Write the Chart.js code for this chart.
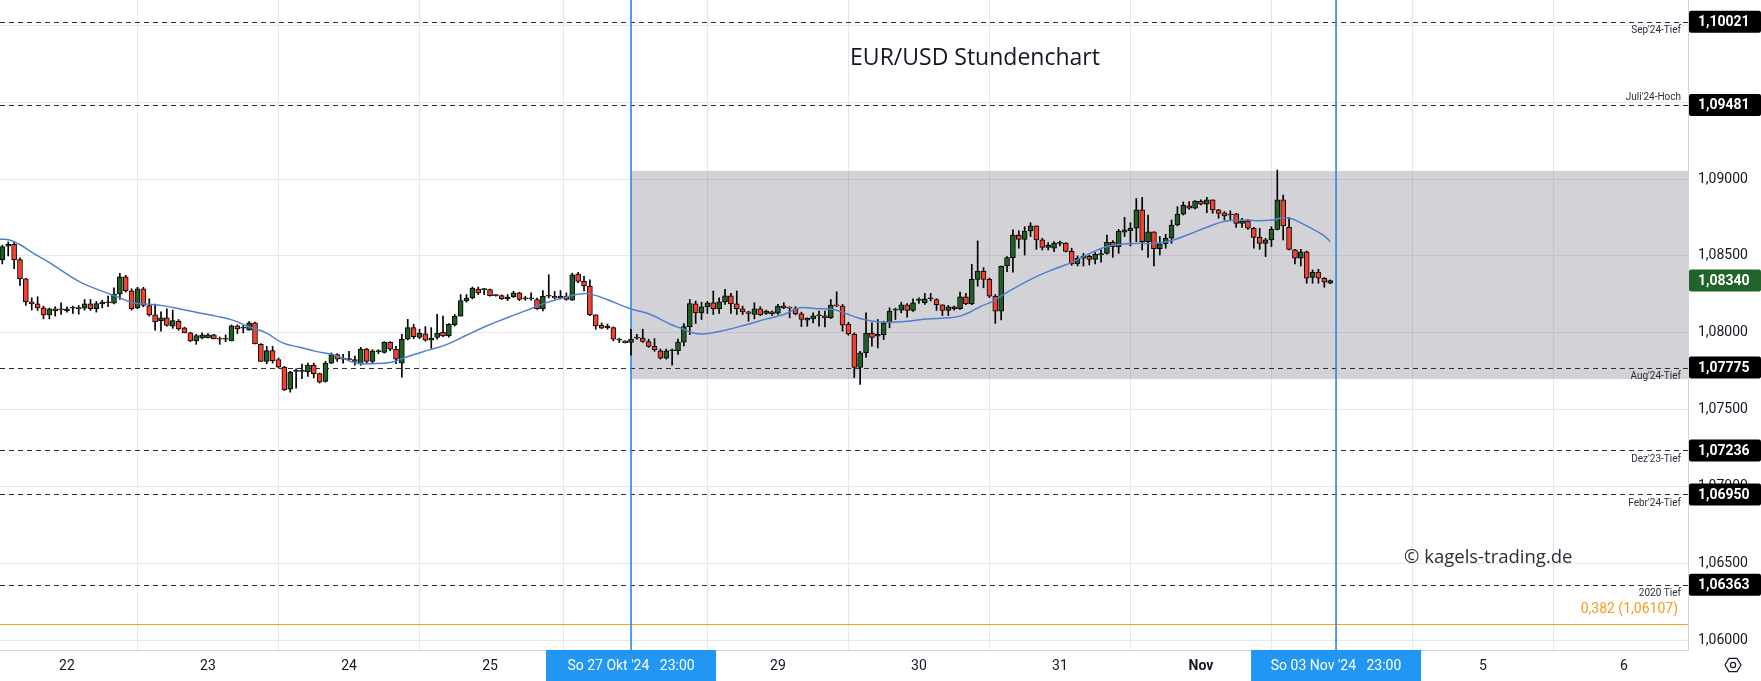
<!DOCTYPE html>
<html lang="de">
<head>
<meta charset="utf-8">
<title>EUR/USD Stundenchart</title>
<script src="https://cdn.jsdelivr.net/npm/chart.js@4.4.1/dist/chart.umd.min.js"></script>
<style>
  html, body { margin: 0; padding: 0; background: #fff; }
</style>
</head>
<body>
<canvas id="chart" width="1761" height="681"></canvas>
<script>
// Stundenkerzen [open, high, low, close], ein Slot je Handelsstunde
const firstSlot = -11;

const oct21 = [
    [1.08474, 1.08570, 1.08448, 1.08561], [1.08563, 1.08591, 1.08500, 1.08576],
    [1.08576, 1.08587, 1.08417, 1.08474], [1.08476, 1.08487, 1.08309, 1.08352],
    [1.08352, 1.08355, 1.08178, 1.08202], [1.08202, 1.08228, 1.08148, 1.08189],
    [1.08189, 1.08235, 1.08146, 1.08163], [1.08163, 1.08174, 1.08091, 1.08117],
    [1.08117, 1.08161, 1.08091, 1.08157], [1.08157, 1.08170, 1.08109, 1.08143],
    [1.08150, 1.08196, 1.08120, 1.08152]
];
const oct22 = [
    [1.08143, 1.08170, 1.08135, 1.08157], [1.08160, 1.08174, 1.08126, 1.08161],
    [1.08157, 1.08178, 1.08122, 1.08165], [1.08161, 1.08217, 1.08148, 1.08189],
    [1.08189, 1.08217, 1.08146, 1.08157], [1.08157, 1.08204, 1.08135, 1.08191],
    [1.08189, 1.08213, 1.08163, 1.08200], [1.08196, 1.08239, 1.08170, 1.08202],
    [1.08193, 1.08293, 1.08189, 1.08252], [1.08252, 1.08387, 1.08217, 1.08365],
    [1.08365, 1.08374, 1.08265, 1.08274], [1.08274, 1.08287, 1.08148, 1.08157],
    [1.08163, 1.08296, 1.08157, 1.08287], [1.08287, 1.08296, 1.08170, 1.08178],
    [1.08178, 1.08222, 1.08109, 1.08117], [1.08117, 1.08187, 1.08017, 1.08072],
    [1.08080, 1.08137, 1.08011, 1.08098], [1.08098, 1.08157, 1.08043, 1.08048],
    [1.08043, 1.08148, 1.08030, 1.08080], [1.08076, 1.08087, 1.08017, 1.08026],
    [1.08033, 1.08037, 1.08000, 1.08000], [1.08000, 1.08004, 1.07943, 1.07948],
    [1.07948, 1.07991, 1.07926, 1.07983], [1.07967, 1.08000, 1.07961, 1.07987]
];
const oct23 = [
    [1.07967, 1.07996, 1.07967, 1.07987], [1.07987, 1.07991, 1.07961, 1.07961],
    [1.07961, 1.07974, 1.07926, 1.07959], [1.07959, 1.07987, 1.07943, 1.07960],
    [1.07948, 1.08052, 1.07948, 1.08046], [1.08046, 1.08052, 1.07996, 1.08026],
    [1.08030, 1.08048, 1.08000, 1.08031], [1.08017, 1.08074, 1.08017, 1.08065],
    [1.08065, 1.08070, 1.07928, 1.07928], [1.07926, 1.07930, 1.07815, 1.07815],
    [1.07815, 1.07913, 1.07800, 1.07885], [1.07885, 1.07913, 1.07804, 1.07820],
    [1.07826, 1.07837, 1.07772, 1.07778], [1.07778, 1.07783, 1.07626, 1.07630],
    [1.07635, 1.07750, 1.07615, 1.07746], [1.07750, 1.07767, 1.07641, 1.07752],
    [1.07750, 1.07798, 1.07702, 1.07752], [1.07746, 1.07804, 1.07717, 1.07789],
    [1.07789, 1.07804, 1.07707, 1.07735], [1.07735, 1.07739, 1.07674, 1.07680],
    [1.07685, 1.07815, 1.07680, 1.07804], [1.07804, 1.07870, 1.07800, 1.07859],
    [1.07859, 1.07865, 1.07815, 1.07830], [1.07830, 1.07860, 1.07804, 1.07832]
];
const oct24 = [
    [1.07832, 1.07880, 1.07820, 1.07826], [1.07826, 1.07850, 1.07790, 1.07815],
    [1.07800, 1.07906, 1.07790, 1.07895], [1.07895, 1.07900, 1.07800, 1.07815],
    [1.07815, 1.07891, 1.07800, 1.07884], [1.07878, 1.07891, 1.07865, 1.07880],
    [1.07873, 1.07943, 1.07868, 1.07938], [1.07938, 1.07943, 1.07884, 1.07895],
    [1.07895, 1.07912, 1.07800, 1.07830], [1.07804, 1.07991, 1.07713, 1.07959],
    [1.07959, 1.08088, 1.07955, 1.08034], [1.08034, 1.08056, 1.07963, 1.07976],
    [1.07970, 1.08024, 1.07963, 1.07998], [1.07994, 1.08041, 1.07946, 1.07953],
    [1.07953, 1.08034, 1.07900, 1.07964], [1.07970, 1.08120, 1.07959, 1.07998],
    [1.08004, 1.08109, 1.07976, 1.07981], [1.07981, 1.08060, 1.07972, 1.08056],
    [1.08054, 1.08120, 1.08045, 1.08109], [1.08109, 1.08249, 1.08109, 1.08210],
    [1.08208, 1.08249, 1.08200, 1.08227], [1.08227, 1.08298, 1.08221, 1.08292],
    [1.08285, 1.08298, 1.08249, 1.08260], [1.08281, 1.08290, 1.08249, 1.08281]
];
const oct25 = [
    [1.08281, 1.08285, 1.08238, 1.08242], [1.08242, 1.08249, 1.08238, 1.08244],
    [1.08242, 1.08247, 1.08217, 1.08221], [1.08221, 1.08249, 1.08210, 1.08232],
    [1.08236, 1.08270, 1.08230, 1.08260], [1.08260, 1.08264, 1.08210, 1.08217],
    [1.08221, 1.08238, 1.08212, 1.08222], [1.08221, 1.08260, 1.08212, 1.08222],
    [1.08217, 1.08227, 1.08152, 1.08157], [1.08157, 1.08275, 1.08143, 1.08238],
    [1.08238, 1.08378, 1.08227, 1.08240], [1.08238, 1.08270, 1.08221, 1.08227],
    [1.08227, 1.08275, 1.08221, 1.08240], [1.08238, 1.08260, 1.08212, 1.08217],
    [1.08212, 1.08388, 1.08212, 1.08378], [1.08382, 1.08393, 1.08324, 1.08335],
    [1.08335, 1.08367, 1.08273, 1.08305], [1.08305, 1.08345, 1.08112, 1.08118],
    [1.08118, 1.08118, 1.08024, 1.08045], [1.08050, 1.08065, 1.08028, 1.08030],
    [1.08032, 1.08058, 1.08024, 1.08045], [1.08034, 1.08039, 1.07948, 1.07959],
    [1.07953, 1.07966, 1.07938, 1.07954], [1.07948, 1.07948, 1.07935, 1.07935]
];
const oct27 = [
    [1.07938, 1.08024, 1.07855, 1.07959]
];
const oct28 = [
    [1.07966, 1.07991, 1.07959, 1.07968], [1.07966, 1.08024, 1.07938, 1.07944],
    [1.07944, 1.07959, 1.07906, 1.07912], [1.07912, 1.07963, 1.07880, 1.07890],
    [1.07884, 1.07895, 1.07830, 1.07836], [1.07836, 1.07895, 1.07830, 1.07884],
    [1.07884, 1.07895, 1.07790, 1.07886], [1.07884, 1.07960, 1.07860, 1.07940],
    [1.07940, 1.08061, 1.07915, 1.08041], [1.08041, 1.08217, 1.07989, 1.08191],
    [1.08189, 1.08207, 1.08061, 1.08130], [1.08130, 1.08200, 1.08087, 1.08170],
    [1.08170, 1.08204, 1.08126, 1.08196], [1.08196, 1.08272, 1.08120, 1.08157],
    [1.08157, 1.08228, 1.08126, 1.08202], [1.08202, 1.08283, 1.08185, 1.08241],
    [1.08241, 1.08257, 1.08126, 1.08189], [1.08189, 1.08272, 1.08120, 1.08157],
    [1.08157, 1.08174, 1.08120, 1.08137], [1.08137, 1.08141, 1.08076, 1.08126],
    [1.08120, 1.08196, 1.08091, 1.08157], [1.08157, 1.08170, 1.08113, 1.08117],
    [1.08126, 1.08148, 1.08120, 1.08141], [1.08137, 1.08141, 1.08113, 1.08124]
];
const oct29 = [
    [1.08128, 1.08185, 1.08120, 1.08174], [1.08176, 1.08196, 1.08157, 1.08163],
    [1.08163, 1.08170, 1.08098, 1.08161], [1.08157, 1.08170, 1.08117, 1.08124],
    [1.08124, 1.08135, 1.08041, 1.08087], [1.08083, 1.08098, 1.08043, 1.08096],
    [1.08091, 1.08130, 1.08065, 1.08111], [1.08111, 1.08141, 1.08043, 1.08113],
    [1.08111, 1.08141, 1.08039, 1.08098], [1.08098, 1.08217, 1.08093, 1.08180],
    [1.08180, 1.08267, 1.08170, 1.08176], [1.08174, 1.08185, 1.08011, 1.08050],
    [1.08058, 1.08069, 1.07985, 1.07993], [1.07992, 1.08000, 1.07710, 1.07775],
    [1.07775, 1.07880, 1.07666, 1.07871], [1.07871, 1.08130, 1.07840, 1.07997],
    [1.07999, 1.08065, 1.07913, 1.07971], [1.07978, 1.08087, 1.07902, 1.07993],
    [1.07989, 1.08076, 1.07957, 1.08065], [1.08065, 1.08163, 1.08033, 1.08141],
    [1.08148, 1.08161, 1.08087, 1.08150], [1.08148, 1.08200, 1.08130, 1.08183],
    [1.08183, 1.08191, 1.08102, 1.08146], [1.08146, 1.08222, 1.08139, 1.08196]
];
const oct30 = [
    [1.08211, 1.08228, 1.08191, 1.08213], [1.08196, 1.08257, 1.08185, 1.08222],
    [1.08222, 1.08257, 1.08207, 1.08223], [1.08217, 1.08222, 1.08146, 1.08183],
    [1.08183, 1.08183, 1.08113, 1.08146], [1.08146, 1.08178, 1.08113, 1.08170],
    [1.08170, 1.08174, 1.08148, 1.08157], [1.08157, 1.08265, 1.08152, 1.08235],
    [1.08235, 1.08257, 1.08183, 1.08189], [1.08189, 1.08446, 1.08183, 1.08348],
    [1.08348, 1.08598, 1.08304, 1.08402], [1.08402, 1.08424, 1.08293, 1.08348],
    [1.08348, 1.08357, 1.08230, 1.08239], [1.08239, 1.08250, 1.08062, 1.08141],
    [1.08141, 1.08435, 1.08084, 1.08435], [1.08435, 1.08496, 1.08398, 1.08489],
    [1.08489, 1.08669, 1.08394, 1.08636], [1.08636, 1.08664, 1.08550, 1.08608],
    [1.08608, 1.08690, 1.08506, 1.08662], [1.08662, 1.08716, 1.08626, 1.08695],
    [1.08695, 1.08695, 1.08543, 1.08604], [1.08604, 1.08615, 1.08539, 1.08556],
    [1.08556, 1.08587, 1.08539, 1.08569], [1.08550, 1.08593, 1.08528, 1.08582]
];
const oct31 = [
    [1.08582, 1.08597, 1.08565, 1.08583], [1.08582, 1.08587, 1.08526, 1.08530],
    [1.08530, 1.08550, 1.08439, 1.08448], [1.08448, 1.08500, 1.08435, 1.08485],
    [1.08485, 1.08517, 1.08435, 1.08498], [1.08498, 1.08506, 1.08442, 1.08478],
    [1.08478, 1.08522, 1.08448, 1.08511], [1.08506, 1.08539, 1.08459, 1.08515],
    [1.08517, 1.08636, 1.08511, 1.08589], [1.08589, 1.08600, 1.08491, 1.08561],
    [1.08561, 1.08673, 1.08517, 1.08662], [1.08654, 1.08751, 1.08626, 1.08669],
    [1.08664, 1.08716, 1.08565, 1.08680], [1.08680, 1.08874, 1.08593, 1.08799],
    [1.08799, 1.08880, 1.08539, 1.08593], [1.08593, 1.08766, 1.08491, 1.08656],
    [1.08656, 1.08656, 1.08435, 1.08548], [1.08548, 1.08626, 1.08506, 1.08578],
    [1.08578, 1.08641, 1.08550, 1.08615], [1.08615, 1.08734, 1.08582, 1.08701],
    [1.08701, 1.08820, 1.08695, 1.08771], [1.08771, 1.08851, 1.08766, 1.08831],
    [1.08825, 1.08853, 1.08803, 1.08810], [1.08810, 1.08860, 1.08805, 1.08857]
];
const nov01 = [
    [1.08855, 1.08864, 1.08831, 1.08836], [1.08836, 1.08881, 1.08781, 1.08864],
    [1.08864, 1.08864, 1.08777, 1.08799], [1.08799, 1.08803, 1.08745, 1.08777],
    [1.08781, 1.08788, 1.08734, 1.08760], [1.08766, 1.08794, 1.08734, 1.08767],
    [1.08773, 1.08777, 1.08686, 1.08712], [1.08712, 1.08745, 1.08686, 1.08727],
    [1.08727, 1.08738, 1.08673, 1.08680], [1.08680, 1.08686, 1.08550, 1.08621],
    [1.08621, 1.08680, 1.08543, 1.08582], [1.08582, 1.08615, 1.08496, 1.08604],
    [1.08604, 1.08690, 1.08561, 1.08673], [1.08673, 1.09058, 1.08669, 1.08864],
    [1.08864, 1.08896, 1.08604, 1.08695], [1.08686, 1.08751, 1.08539, 1.08543],
    [1.08539, 1.08543, 1.08448, 1.08485], [1.08485, 1.08543, 1.08435, 1.08526],
    [1.08526, 1.08532, 1.08323, 1.08355], [1.08361, 1.08409, 1.08323, 1.08396],
    [1.08396, 1.08413, 1.08323, 1.08355], [1.08355, 1.08359, 1.08297, 1.08329],
    [1.08323, 1.08344, 1.08320, 1.08340]
];

// Tagesbeschriftung der Zeitachse (Slot -> Label)
const daySlots = [0, 24, 48, 72, 97, 121, 145, 169, 193, 217, 241, 265];
const dayLabels = ["22", "23", "24", "25", "28", "29", "30", "31", "Nov", "4", "5", "6"];

// gleitender Durchschnitt (blaue Linie)
const maSlots = [-11.5, -9.8, -8.1, -5.9, -3, -0.2, 2.7, 5.5, 8.3, 11.2, 14, 16.8, 19.7, 22.5, 25.4, 28.2,
    31, 33.9, 36.7, 39.6, 42.4, 45.3, 49.2, 51.9, 55.2, 57.9, 61.5, 64.6, 68, 71.4, 74.7, 78.1, 81.5, 84.8,
    87.7, 89.6, 91.9, 95.9, 99.3, 102.7, 104.3, 106.6, 108.3, 111.2, 115.1, 119.1, 122, 124.8, 127.6, 130.4,
    132.7, 135, 137.8, 140.7, 144.1, 146.3, 150.3, 152, 153.7, 155.4, 157.7, 158.8, 162.8, 165.6, 168.4,
    171.3, 174.1, 177, 179.8, 182.6, 185.5, 188.3, 191.1, 194, 196.8, 199.7, 202.5, 205.3, 207, 208.7, 211,
    213.8, 215];
const maValues = [1.08609, 1.08604, 1.08576, 1.08522, 1.08457, 1.08387, 1.08322, 1.08278, 1.08239, 1.08196,
    1.08187, 1.08174, 1.08152, 1.08130, 1.08109, 1.08083, 1.08039, 1.08000, 1.07935, 1.07907, 1.07880,
    1.07859, 1.07804, 1.07800, 1.07809, 1.07845, 1.07888, 1.07924, 1.07985, 1.08045, 1.08095, 1.08145,
    1.08195, 1.08232, 1.08255, 1.08247, 1.08217, 1.08157, 1.08120, 1.08056, 1.08033, 1.08000, 1.07993,
    1.08011, 1.08048, 1.08091, 1.08120, 1.08163, 1.08157, 1.08152, 1.08124, 1.08093, 1.08072, 1.08070,
    1.08080, 1.08091, 1.08098, 1.08109, 1.08135, 1.08170, 1.08207, 1.08236, 1.08323, 1.08377, 1.08420,
    1.08463, 1.08517, 1.08561, 1.08578, 1.08582, 1.08582, 1.08604, 1.08643, 1.08686, 1.08723, 1.08734,
    1.08729, 1.08734, 1.08749, 1.08738, 1.08695, 1.08636, 1.08593];

// Marken
const levelValues = [1.10021, 1.09481, 1.07775, 1.07236, 1.06950, 1.06363];
const levelNames = ["Sep'24-Tief", "Juli'24-Hoch", "Aug'24-Tief", "Dez'23-Tief", "Febr'24-Tief", "2020 Tief"];
const fibValue = 1.06107;
const fibLabel = "0,382 (1,06107)";
const rangeTop = 1.09052;
const rangeBottom = 1.07700;
const markerSlots = [96, 216];
const markerLabels = ["So 27 Okt '24   23:00", "So 03 Nov '24   23:00"];
const priceTicks = [1.060, 1.065, 1.070, 1.075, 1.080, 1.085, 1.090, 1.095, 1.100];

const candles = [].concat(oct21, oct22, oct23, oct24, oct25, oct27, oct28, oct29, oct30, oct31, nov01);
const lastClose = candles[candles.length - 1][3];

const UP = "#1f5f26";
const DOWN = "#f4402f";

function fmt(v) {
    return v.toFixed(5).replace(".", ",");
}

let wicks = [];
let bodies = [];
let bodyColors = [];
candles.forEach((c, i) => {
    let s = firstSlot + i;
    wicks.push({ x: s, y: [c[2], c[1]] });
    bodies.push({ x: s, y: [Math.min(c[0], c[3]), Math.max(c[0], c[3])] });
    bodyColors.push(c[3] >= c[0] ? UP : DOWN);
});

// Zeichnungen: Range, Linien, Beschriftungen, Preisschilder
const overlay = {
    id: "overlay",
    beforeDatasetsDraw(chart) {
        const { ctx, chartArea: a, scales: { x, y } } = chart;
        ctx.save();
        ctx.beginPath();
        ctx.rect(a.left, a.top, a.right - a.left, a.bottom - a.top);
        ctx.clip();

        // grauer Bereich
        let rx = x.getPixelForValue(markerSlots[0]);
        let ry1 = y.getPixelForValue(rangeTop);
        let ry2 = y.getPixelForValue(rangeBottom);
        ctx.fillStyle = "rgba(118, 118, 135, 0.33)";
        ctx.fillRect(rx, ry1, a.right - rx, ry2 - ry1);

        // gestrichelte Marken
        ctx.strokeStyle = "#2a2e39";
        ctx.lineWidth = 1;
        ctx.setLineDash([5, 4]);
        levelValues.forEach(v => {
            let py = Math.round(y.getPixelForValue(v)) + 0.5;
            ctx.beginPath();
            ctx.moveTo(a.left, py);
            ctx.lineTo(a.right, py);
            ctx.stroke();
        });
        ctx.setLineDash([]);

        // Fibo-Linie
        let fy = Math.round(y.getPixelForValue(fibValue)) + 0.5;
        ctx.strokeStyle = "#f7a21b";
        ctx.lineWidth = 1.2;
        ctx.beginPath();
        ctx.moveTo(a.left, fy);
        ctx.lineTo(a.right, fy);
        ctx.stroke();

        // blaue Zeitmarken
        ctx.strokeStyle = "#2488e6";
        ctx.lineWidth = 1.6;
        markerSlots.forEach(s => {
            let px = x.getPixelForValue(s);
            ctx.beginPath();
            ctx.moveTo(px, a.top);
            ctx.lineTo(px, a.bottom);
            ctx.stroke();
        });

        // Namen der Marken
        ctx.font = "10px Roboto";
        ctx.fillStyle = "#2a2e39";
        ctx.textAlign = "right";
        ctx.textBaseline = "middle";
        levelValues.forEach((v, i) => {
            let py = y.getPixelForValue(v);
            let above = levelNames[i].includes("Hoch");
            ctx.fillText(levelNames[i], a.right - 7, above ? py - 7 : py + 9);
        });
        ctx.font = "14px Roboto";
        ctx.fillStyle = "#f59d16";
        ctx.fillText(fibLabel, a.right - 10, fy - 15);
        ctx.restore();
    },
    afterDraw(chart) {
        const { ctx, chartArea: a, scales: { x, y } } = chart;
        ctx.save();

        // Titel und Copyright
        ctx.fillStyle = "#131722";
        ctx.font = "23px 'Open Sans'";
        ctx.textAlign = "center";
        ctx.textBaseline = "middle";
        ctx.fillText("EUR/USD Stundenchart", 975, 58);
        ctx.fillStyle = "#2a2e39";
        ctx.font = "18.5px 'Open Sans'";
        ctx.textAlign = "left";
        ctx.fillText("© kagels-trading.de", 1404, 558);

        // Preisschilder rechts
        const tag = (v, bg) => {
            let py = y.getPixelForValue(v);
            ctx.fillStyle = bg;
            ctx.beginPath();
            ctx.roundRect(a.right + 1, py - 11, chart.width - a.right - 1, 22, 2);
            ctx.fill();
            ctx.fillStyle = "#ffffff";
            ctx.font = "bold 14px Roboto";
            ctx.textAlign = "left";
            ctx.textBaseline = "middle";
            ctx.fillText(fmt(v), a.right + 10, py + 1);
        };
        levelValues.forEach(v => tag(v, "#000000"));
        tag(lastClose, "#22632b");

        // Zeitschilder unten
        markerSlots.forEach((s, i) => {
            let px = x.getPixelForValue(s);
            ctx.fillStyle = "#2196f3";
            ctx.fillRect(px - 85, a.bottom, 170, chart.height - a.bottom);
            ctx.fillStyle = "#ffffff";
            ctx.font = "14px Roboto";
            ctx.textAlign = "center";
            ctx.textBaseline = "middle";
            ctx.fillText(markerLabels[i], px, a.bottom + 16);
        });

        // Einstellungs-Symbol
        let cx = 1733, cy = 665, r = 8;
        ctx.strokeStyle = "#131722";
        ctx.lineWidth = 1.2;
        ctx.beginPath();
        for (let k = 0; k < 6; k++) {
            let ang = Math.PI / 3 * k;
            let px = cx + r * Math.cos(ang);
            let py = cy + r * Math.sin(ang) * 0.95;
            if (k === 0) ctx.moveTo(px, py); else ctx.lineTo(px, py);
        }
        ctx.closePath();
        ctx.stroke();
        ctx.beginPath();
        ctx.arc(cx, cy, 2.6, 0, Math.PI * 2);
        ctx.stroke();
        ctx.restore();
    }
};

new Chart(document.getElementById("chart").getContext("2d"), {
    type: "bar",
    data: {
        datasets: [
            {
                type: "line",
                label: "MA",
                data: maSlots.map((s, i) => ({ x: s, y: maValues[i] })),
                borderColor: "#4f7fcf",
                borderWidth: 1.5,
                pointRadius: 0,
                tension: 0.4,
                order: 0
            },
            {
                label: "Körper",
                data: bodies,
                backgroundColor: bodyColors,
                borderColor: "#000000",
                borderWidth: 1,
                borderSkipped: false,
                barThickness: 5,
                minBarLength: 1,
                grouped: false,
                order: 1
            },
            {
                label: "Docht",
                data: wicks,
                backgroundColor: "#000000",
                borderWidth: 0,
                barThickness: 1,
                grouped: false,
                order: 2
            }
        ]
    },
    options: {
        responsive: false,
        animation: false,
        layout: { padding: 0 },
        plugins: { legend: { display: false }, tooltip: { enabled: false } },
        scales: {
            x: {
                type: "linear",
                min: -11.4,
                max: 275.9,
                offset: false,
                afterFit: scale => {
                    scale.height = 31;
                    scale.paddingLeft = 0;
                    scale.paddingRight = 0;
                },
                afterBuildTicks: scale => { scale.ticks = daySlots.map(v => ({ value: v })); },
                grid: { color: "#e6e8ee", drawTicks: false },
                border: { color: "#d1d4dc" },
                ticks: {
                    padding: 8,
                    color: "#131722",
                    maxRotation: 0,
                    autoSkip: false,
                    font: c => ({ family: "Roboto", size: 14, weight: dayLabels[c.index] === "Nov" ? "bold" : "normal" }),
                    callback: (v, i) => dayLabels[i]
                }
            },
            y: {
                position: "right",
                min: 1.059396,
                max: 1.101631,
                afterFit: scale => {
                    scale.width = 73;
                    scale.paddingTop = 0;
                    scale.paddingBottom = 0;
                },
                afterBuildTicks: scale => { scale.ticks = priceTicks.map(v => ({ value: v })); },
                grid: { color: "#e6e8ee", drawTicks: false },
                border: { color: "#d1d4dc" },
                ticks: {
                    padding: 10,
                    color: "#131722",
                    font: { family: "Roboto", size: 14 },
                    callback: v => fmt(v)
                }
            }
        }
    },
    plugins: [overlay]
});
</script>
</body>
</html>
